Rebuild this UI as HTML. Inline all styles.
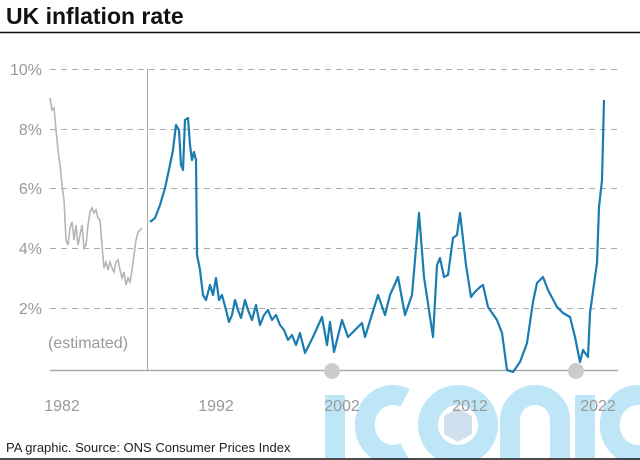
<!DOCTYPE html>
<html><head><meta charset="utf-8"><style>
html,body{margin:0;padding:0;background:#fff;}
svg{display:block;font-family:"Liberation Sans",sans-serif;}
</style></head><body>
<svg width="640" height="460" viewBox="0 0 640 460">
<text x="6" y="24" font-size="23" font-weight="bold" fill="#111">UK inflation rate</text>
<line x1="0" y1="32.5" x2="640" y2="32.5" stroke="#111" stroke-width="1.5"/>
<g stroke="#aaa" stroke-width="1" stroke-dasharray="6,5">
<line x1="50" y1="69.5" x2="618" y2="69.5"/>
<line x1="50" y1="129.5" x2="618" y2="129.5"/>
<line x1="50" y1="188.5" x2="618" y2="188.5"/>
<line x1="50" y1="248.5" x2="618" y2="248.5"/>
<line x1="50" y1="308.5" x2="618" y2="308.5"/>
</g>
<line x1="147.5" y1="69" x2="147.5" y2="370" stroke="#aaa"/>
<g font-size="16" fill="#999" text-anchor="end">
<text x="42" y="75">10%</text><text x="42" y="135">8%</text><text x="42" y="194">6%</text><text x="42" y="254">4%</text><text x="42" y="314">2%</text>
</g>
<text x="48" y="348" font-size="16" fill="#999">(estimated)</text>
<!-- watermark -->
<g fill="none" stroke="#bfe6f7" stroke-width="20">
<line x1="335" y1="395" x2="335" y2="458"/>
<path d="M405 398 A28 30 0 1 0 405 452"/>
<circle cx="458" cy="425" r="30"/>
<path d="M510 458 V420 A25 25 0 0 1 560 420 V458"/>
<line x1="585" y1="395" x2="585" y2="458"/>
<path d="M650 398 A28 30 0 1 0 650 452"/>
</g>
<polygon points="458,408 472,416 472,434 458,442 444,434 444,416" fill="#cfe0ee"/>
<line x1="50" y1="370.5" x2="618" y2="370.5" stroke="#aaa" stroke-width="1.5"/>
<circle cx="332" cy="371" r="8" fill="#ccc"/>
<circle cx="576" cy="371" r="8" fill="#ccc"/>
<g font-size="16" fill="#999" text-anchor="middle">
<text x="62" y="411">1982</text><text x="216" y="411">1992</text><text x="342" y="411">2002</text><text x="470" y="411">2012</text><text x="598" y="411">2022</text>
</g>
<polyline fill="none" stroke="#b5b5b5" stroke-width="1.6" points="50,98 52,110 54,108 56,130 58,150 60,165 62,185 64,200 66,240 68,245 70,228 72,222 74,240 76,225 78,245 80,235 82,225 84,248 86,245 88,225 90,212 92,208 94,213 96,210 98,218 100,220 102,245 104,268 106,262 108,270 110,262 112,268 114,272 116,262 118,260 120,270 122,278 124,272 126,285 128,278 130,282 132,270 134,255 136,240 138,232 140,230 142,228"/>
<polyline fill="none" stroke="#1a7db0" stroke-width="2.2" stroke-linejoin="round" points="150,222 155,218 160,205 165,188 170,165 173,150 176,125 179,130 181,165 183,170 185,120 188,118 190,145 192,160 194,152 196,160 197,255 200,270 203,295 206,300 210,285 213,295 216,278 219,300 222,295 226,310 229,322 232,315 235,300 238,310 241,318 245,300 248,310 252,320 256,305 260,325 264,315 268,310 272,320 276,315 280,325 284,330 288,340 292,335 296,345 300,333 305,353 313,337 322,317 327,345 330,322 334,352 342,320 348,337 362,323 365,337 378,295 385,315 390,295 398,277 405,315 412,295 419,213 424,277 433,337 437,265 440,258 444,277 448,275 453,238 457,235 460,213 466,265 471,297 474,293 480,287 483,285 488,307 497,320 502,333 507,370 513,372 520,362 527,343 533,302 537,283 543,277 548,290 557,307 563,313 570,317 575,337 580,362 583,350 588,357 590,313 595,277 597,263 599,207 602,180 604,100"/>
<text x="6" y="452" font-size="13" fill="#222">PA graphic. Source: ONS Consumer Prices Index</text>
<line x1="0" y1="459" x2="640" y2="459" stroke="#111" stroke-width="1.5"/>
</svg>
</body></html>
